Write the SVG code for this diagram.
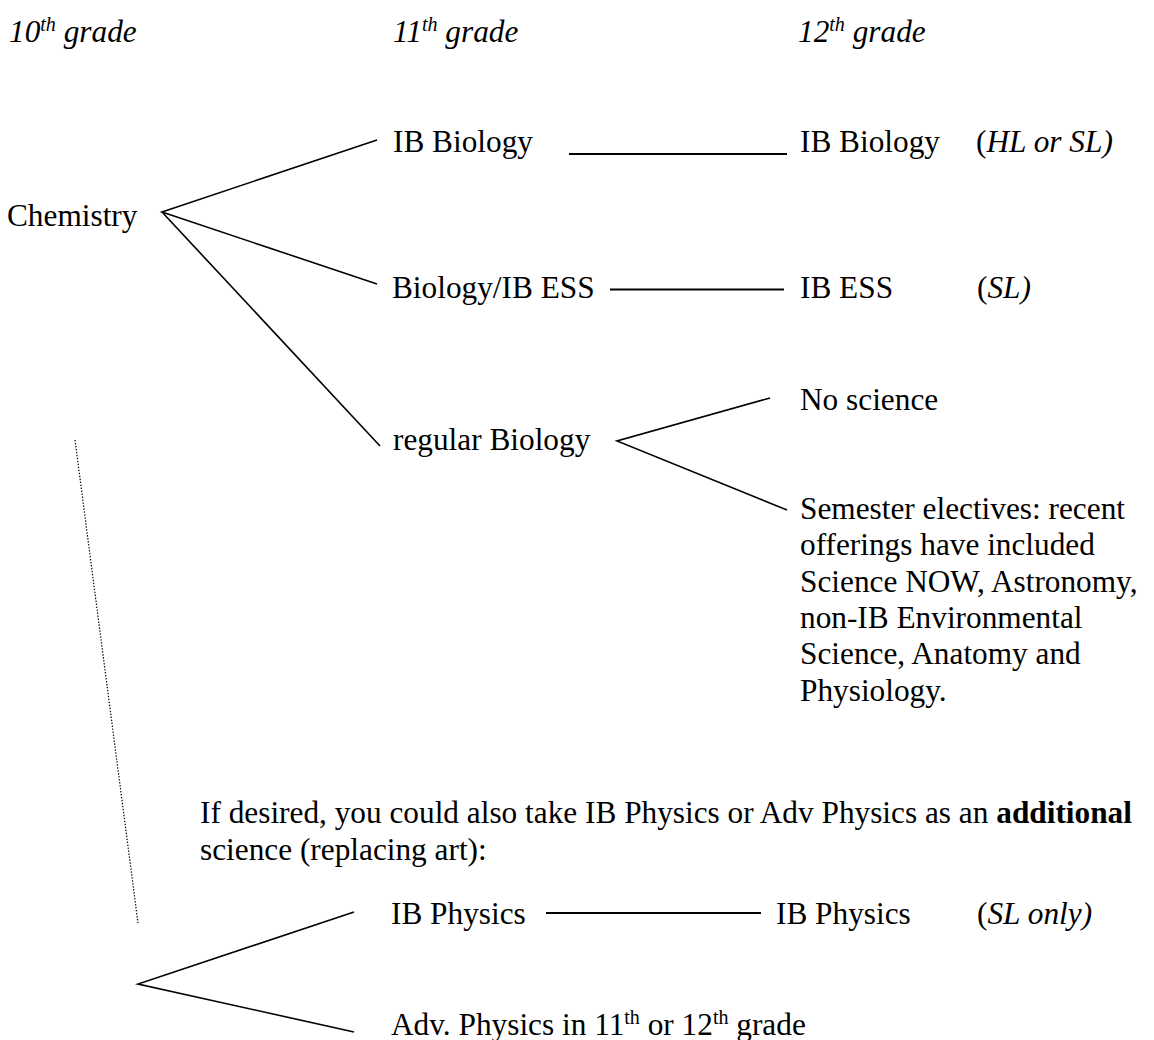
<svg xmlns="http://www.w3.org/2000/svg" width="1154" height="1040" viewBox="0 0 1154 1040">
<style>
text{font-family:"Liberation Serif","Times New Roman",serif;font-size:31.3px;fill:#000}
.it{font-style:italic}
.b{font-weight:bold}
.ln{stroke:#000;stroke-width:1.6;fill:none}
.hz{stroke:#000;stroke-width:2;fill:none}
.dot{stroke:#000;stroke-width:1.2;stroke-dasharray:1.4 1.6;fill:none}
</style>
<rect width="1154" height="1040" fill="#fff"/>
<g id="headers">
<text class="it" x="9" y="42">10<tspan font-size="20" dy="-11">th</tspan><tspan dy="11"> grade</tspan></text>
<text class="it" x="393" y="42">11<tspan font-size="20" dy="-11">th</tspan><tspan dy="11"> grade</tspan></text>
<text class="it" x="798" y="42">12<tspan font-size="20" dy="-11">th</tspan><tspan dy="11"> grade</tspan></text>
</g>
<g id="connectors">
<polyline class="ln" points="377,140 162,212 377,284"/>
<line class="ln" x1="162" y1="212" x2="380" y2="446"/>
<line class="hz" x1="569" y1="154" x2="787" y2="154"/>
<line class="hz" x1="610" y1="289.5" x2="784" y2="289.5"/>
<polyline class="ln" points="770,398 617,441 787,510"/>
<line class="dot" x1="75" y1="440" x2="138" y2="923"/>
<polyline class="ln" points="354,912 138,984 354,1032"/>
<line class="hz" x1="546" y1="913" x2="761" y2="913"/>
</g>
<g id="chemistry"><text x="7" y="225.5">Chemistry</text></g>
<g id="ib-biology-11"><text x="393" y="151.5">IB Biology</text></g>
<g id="ib-biology-12"><text x="800" y="151.5">IB Biology</text><text x="976" y="151.5">(<tspan class="it">HL or SL)</tspan></text></g>
<g id="biology-ess-11"><text x="392" y="298">Biology/IB ESS</text></g>
<g id="ib-ess-12"><text x="800" y="298">IB ESS</text><text x="977" y="298">(<tspan class="it">SL)</tspan></text></g>
<g id="regular-biology"><text x="393" y="450">regular Biology</text></g>
<g id="no-science"><text x="800" y="410">No science</text></g>
<g id="electives">
<text x="800" y="519">Semester electives: recent</text>
<text x="800" y="555.3">offerings have included</text>
<text x="800" y="591.6">Science NOW, Astronomy,</text>
<text x="800" y="627.9">non-IB Environmental</text>
<text x="800" y="664.2">Science, Anatomy and</text>
<text x="800" y="700.5">Physiology.</text>
</g>
<g id="note">
<text x="200" y="823">If desired, you could also take IB Physics or Adv Physics as an <tspan class="b">additional</tspan></text>
<text x="200" y="860">science (replacing art):</text>
</g>
<g id="ib-physics-11"><text x="391" y="924">IB Physics</text></g>
<g id="ib-physics-12"><text x="776" y="924">IB Physics</text><text x="977" y="924">(<tspan class="it">SL only)</tspan></text></g>
<g id="adv-physics"><text x="391" y="1035">Adv. Physics in 11<tspan font-size="20" dy="-11">th</tspan><tspan dy="11"> or 12</tspan><tspan font-size="20" dy="-11">th</tspan><tspan dy="11"> grade</tspan></text></g>
</svg>
